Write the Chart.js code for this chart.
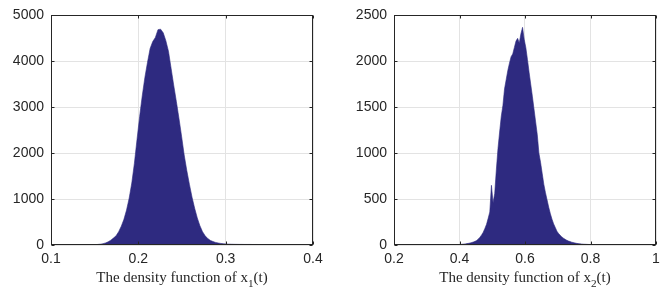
<!DOCTYPE html>
<html>
<head>
<meta charset="utf-8">
<script src="https://cdn.jsdelivr.net/npm/chart.js@4.4.1/dist/chart.umd.min.js"></script>
<style>
  body { margin: 0; background: #fff; }
  #wrap { position: relative; width: 667px; height: 291px; }
  canvas { position: absolute; top: 0; }
  .xt {
    position: absolute; top: 268px; height: 18px; line-height: 18px;
    font-family: "Liberation Serif", "Times New Roman", serif; font-size: 15px;
    color: #262626; text-align: center; white-space: nowrap;
  }
  .xt sub { font-size: 0.75em; line-height: 0; vertical-align: -0.4em; }
</style>
</head>
<body>
<div id="wrap">
  <canvas id="c1" width="333" height="291" style="left:0"></canvas>
  <canvas id="c2" width="334" height="291" style="left:333px"></canvas>
  <div class="xt" style="left:51px;width:262px">The density function of x<sub>1</sub>(t)</div>
  <div class="xt" style="left:394px;width:262px">The density function of x<sub>2</sub>(t)</div>
</div>
<script>
// histogram of x1(t): centre of first bin, bin width, counts
var x1Start = 0.1415;
var x1Bin = 0.003;
var x1Counts = [
  2, 3, 5, 8, 12, 18, 28, 45, 70, 105,
  150, 200, 290, 410, 560, 760, 1020, 1350, 1780, 2300,
  2800, 3250, 3650, 3980, 4280, 4430, 4520, 4690, 4700, 4620,
  4450, 4220, 3850, 3480, 3130, 2760, 2370, 1960, 1620, 1320,
  1040, 800, 590, 420, 290, 200, 140, 100, 75, 56,
  43, 34, 27, 22, 19, 17, 15, 14, 13, 13,
  12, 12, 12, 11, 11, 11, 10, 10, 10, 10,
  9, 9, 9, 9, 9, 8, 8, 8, 8, 8,
  8, 7, 7, 7, 7, 7, 7
];

// histogram of x2(t)
var x2Start = 0.3825;
var x2Bin = 0.005;
var x2Counts = [
  2, 3, 4, 5, 6, 8, 10, 12, 15, 18,
  22, 27, 33, 40, 50, 65, 85, 110, 140, 180,
  225, 290, 360, 650, 460, 560, 820, 1050, 1230, 1400,
  1520, 1700, 1800, 1900, 1980, 2050, 2080, 2150, 2220, 2250,
  2200, 2300, 2370, 2240, 2150, 2020, 1880, 1750, 1620, 1480,
  1340, 1200, 1000, 900, 780, 660, 570, 490, 410, 340,
  280, 230, 190, 150, 125, 105, 88, 74, 62, 52,
  44, 37, 31, 26, 22, 18, 15, 13, 11, 9,
  8, 7, 6, 5, 4, 4, 3, 3, 2
];

// axis ranges [min, max, step]
var x1Ticks = [0.1, 0.4, 0.1];
var y1Ticks = [0, 5000, 1000];
var x2Ticks = [0.2, 1.0, 0.2];
var y2Ticks = [0, 2500, 500];

var barColor = "#2e2a80";
var textColor = "#262626";
var gridColor = "#e3e3e3";

// MATLAB-like box with inward ticks
var boxPlugin = {
  id: "box",
  afterDraw: function (chart) {
    var ctx = chart.ctx, a = chart.chartArea;
    var l = Math.round(a.left) + 0.5, r = Math.round(a.right) - 0.5;
    var t = Math.round(a.top) + 0.5, b = Math.round(a.bottom) - 0.5;
    ctx.save();
    ctx.strokeStyle = textColor;
    ctx.lineWidth = 1;
    ctx.strokeRect(l, t, r - l, b - t);
    ctx.beginPath();
    chart.scales.x.ticks.forEach(function (tk) {
      var px = Math.round(chart.scales.x.getPixelForValue(tk.value)) + 0.5;
      ctx.moveTo(px, b); ctx.lineTo(px, b - 3);
      ctx.moveTo(px, t); ctx.lineTo(px, t + 3);
    });
    chart.scales.y.ticks.forEach(function (tk) {
      var py = Math.round(chart.scales.y.getPixelForValue(tk.value)) + 0.5;
      ctx.moveTo(l, py); ctx.lineTo(l + 3, py);
      ctx.moveTo(r, py); ctx.lineTo(r - 3, py);
    });
    ctx.stroke();
    ctx.restore();
  }
};

var tickFont = { family: "'Liberation Sans', Arial, sans-serif", size: 14 };

function makeHist(id, start, bin, counts, xt, yt, yWidth, padRight) {
  var pts = counts.map(function (c, i) {
    return { x: start + i * bin, y: c };
  });
  return new Chart(document.getElementById(id).getContext("2d"), {
    type: "line",
    plugins: [boxPlugin],
    data: {
      datasets: [{
        data: pts,
        fill: "origin",
        backgroundColor: barColor,
        borderColor: barColor,
        borderWidth: 0.6,
        pointRadius: 0,
        tension: 0,
      }],
    },
    options: {
      responsive: false,
      animation: false,
      devicePixelRatio: 1,
      layout: { padding: { left: 0, right: padRight, top: 15, bottom: 0 } },
      plugins: { legend: { display: false }, tooltip: { enabled: false } },
      scales: {
        x: {
          type: "linear",
          min: xt[0], max: xt[1],
          grid: { color: gridColor, drawTicks: false },
          border: { display: false },
          ticks: {
            stepSize: xt[2], padding: 6, color: textColor, font: tickFont,
            maxRotation: 0,
            callback: function (v) { return String(Math.round(v * 10) / 10); },
          },
          afterFit: function (s) { s.height = 46; },
        },
        y: {
          min: yt[0], max: yt[1],
          grid: { color: gridColor, drawTicks: false },
          border: { display: false },
          ticks: {
            stepSize: yt[2], padding: 7, color: textColor, font: tickFont,
            callback: function (v) { return String(v); },
          },
          afterFit: function (s) { s.width = yWidth; },
        },
      },
    },
  });
}

makeHist("c1", x1Start, x1Bin, x1Counts, x1Ticks, y1Ticks, 51, 20);
makeHist("c2", x2Start, x2Bin, x2Counts, x2Ticks, y2Ticks, 61, 11);
</script>
</body>
</html>
